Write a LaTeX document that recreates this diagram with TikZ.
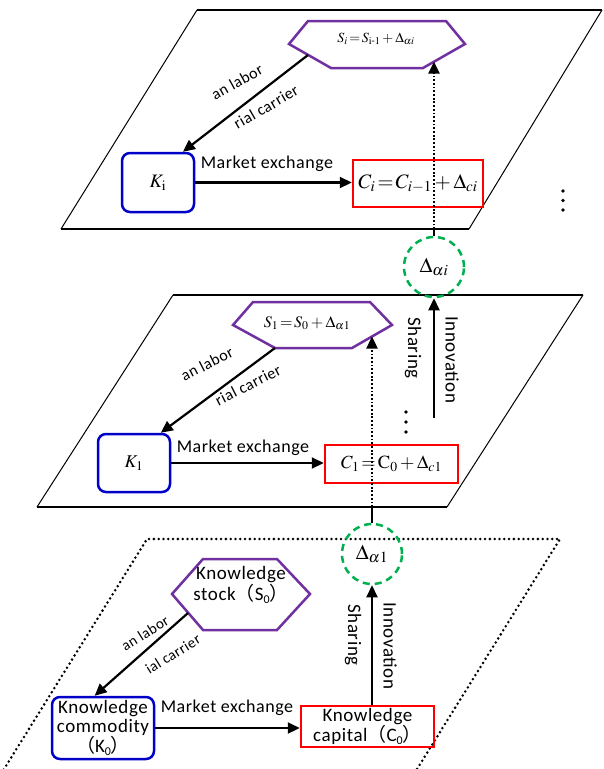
\documentclass[tikz,border=0pt]{standalone}
\usepackage{amsmath}
\usepackage{mathptmx}
\usepackage[no-math]{fontspec}
\setmainfont{Carlito}[LetterSpace=3]
\newfontfamily\cjkfont{Noto Sans CJK SC}
\usetikzlibrary{arrows.meta,calc}
\definecolor{hexpurple}{RGB}{112,48,160}
\definecolor{boxblue}{RGB}{0,0,200}
\definecolor{boxred}{RGB}{255,0,0}
\definecolor{circgreen}{RGB}{0,176,80}
\newcommand\lowsub[1]{\raisebox{-0.3ex}{\fontsize{12}{12}\selectfont #1}}
\newcommand\fpar[1]{{\cjkfont #1}}
\newcommand\fs[2]{\fontsize{#1}{#2}\selectfont}
\tikzset{
  kbox/.style={draw=boxblue, line width=2.5pt, rounded corners=8pt, align=center, inner sep=0pt},
  cbox/.style={draw=boxred, line width=2.5pt, align=center, inner sep=0pt},
  hexline/.style={draw=hexpurple, line width=2.5pt, line join=miter},
  dcirc/.style={circle, draw=circgreen, line width=2.5pt, dash pattern=on 7pt off 5pt, minimum size=60pt, inner sep=0pt, font=\fs{21}{21}},
  arr/.style={line width=2.2pt, -{Triangle[length=12pt,width=11pt]}},
  darr/.style={arr, line width=2.4pt, dash pattern=on 1.8pt off 1.9pt},
  solidlink/.style={line width=2.2pt},
  planeH/.style={line width=1.3pt},
  planeS/.style={line width=1pt},
  planeD/.style={line width=2.8pt, line cap=round, dash pattern=on 0pt off 4.8pt},
  lab/.style={font=\fs{16}{16}, inner sep=0pt},
  me/.style={font=\fs{18}{18}, inner sep=0pt},
  side/.style={font=\fs{19}{19}, rotate=-90, inner sep=0pt},
  txt/.style={inner sep=0pt, align=center}
}
\begin{document}
\begin{tikzpicture}[x=1pt,y=-1pt]
\useasboundingbox (0,0) rectangle (603,769);

% ---------- planes ----------
\draw[planeH] (197,10) -- (602,10);
\draw[planeH] (61,229) -- (469,229);
\draw[planeS] (61,229) -- (197,10);
\draw[planeS] (469,229) -- (602,10);

\draw[planeH] (173,295) -- (583,295);
\draw[planeH] (37,507) -- (447,507);
\draw[planeS] (37,507) -- (173,295);
\draw[planeS] (447,507) -- (583,295);

\begin{scope}
\clip (0,0) rectangle (603,769);
\draw[planeD] (-9,790) -- (147,539) -- (560,539) -- (404,790);
\end{scope}

% ---------- top plane ----------
\coordinate (Si-l) at (289,44);
\coordinate (Si-tl) at (308,21);
\coordinate (Si-tr) at (446,21);
\coordinate (Si-r) at (465,44);
\coordinate (Si-br) at (423,68);
\coordinate (Si-bl) at (331,68);
\draw[hexline] (Si-l) -- (Si-tl) -- (Si-tr) -- (Si-r) -- (Si-br) -- (Si-bl) -- cycle;
\node[txt, font=\fs{14}{14}] (Si) at (376,39) {$S_i\!=\!S_{\mathrm{i}\text{-}1}+\Delta_{\alpha i}$};
\coordinate (Si-s) at (308,55);
\coordinate (Si-hit) at (434,61.7);

\node[kbox, minimum width=72pt, minimum height=59pt, font=\fs{19}{19}] (Ki) at (158,182.5) {$K_{\mathrm{i}}$};
\node[cbox, minimum width=130pt, minimum height=47pt, font=\fs{20.5}{20.5}] (Ci) at (418,183.5) {$C_i\!=\!C_{i-1}+\Delta_{ci}$};

\draw[arr] (Si-s) -- ($(Ki.north)!0.67!(Ki.north east)$);
\node[lab, rotate=29] (lab1a) at (237,82) {an labor};
\node[lab, rotate=30] (lab1b) at (266,107) {rial carrier};

\draw[arr] (Ki.east) -- (Ki.east -| Ci.west);
\node[me] (me1) at (267,164) {Market exchange};

\fill (563,191) circle (1.8pt) (563,200.5) circle (1.8pt) (563,210) circle (1.8pt);

\node[dcirc] (Dai) at (434,267) {$\Delta_{\alpha i}$};
\coordinate (p1b) at (434,229);
\draw[solidlink] (Dai.north) -- (p1b);
\draw[darr] (p1b) -- (Si-hit);

% ---------- middle plane ----------
\coordinate (S1-l) at (233,325);
\coordinate (S1-tl) at (253,302);
\coordinate (S1-tr) at (370,302);
\coordinate (S1-r) at (392,325);
\coordinate (S1-br) at (352,348);
\coordinate (S1-bl) at (275,348);
\draw[hexline] (S1-l) -- (S1-tl) -- (S1-tr) -- (S1-r) -- (S1-br) -- (S1-bl) -- cycle;
\node[txt, font=\fs{16}{16}] (S1) at (307,323) {$S_1\!=\!S_0+\Delta_{\alpha 1}$};
\coordinate (S1-hit) at (372,336.5);

\node[kbox, minimum width=72pt, minimum height=58pt, font=\fs{18}{18}] (K1) at (134,463) {$K_1$};
\node[cbox, minimum width=133pt, minimum height=38pt, font=\fs{18.5}{18.5}] (C1) at (391.5,464) {$C_1\!=\!\mathrm{C}_0+\Delta_{c1}$};

\draw[arr] (S1-bl) -- ($(K1.north)!0.72!(K1.north east)$);
\node[lab, rotate=27] (lab2a) at (207,364) {an labor};
\node[lab, rotate=27] (lab2b) at (248,385) {rial carrier};

\draw[arr] (K1.east) -- (K1.east -| C1.west);
\node[me] (me2) at (243,448) {Market exchange};

\fill (406,412) circle (1.8pt) (406,422) circle (1.8pt) (406,432) circle (1.8pt);

\coordinate (Dai-in) at (434,418);
\draw[arr] (Dai-in) -- (Dai.south);
\node[side] (sh2) at (413,348) {Sharing};
\node[side] (in2) at (452,360) {Innovation};

\node[dcirc] (Da1) at (372,554) {$\Delta_{\alpha 1}$};
\coordinate (p2b) at (372,507);
\draw[solidlink] (Da1.north) -- (p2b);
\draw[darr] (p2b) -- (S1-hit);

% ---------- bottom plane ----------
\coordinate (S0-l) at (172,594);
\coordinate (S0-tl) at (203,559);
\coordinate (S0-tr) at (277,559);
\coordinate (S0-r) at (310,594);
\coordinate (S0-br) at (277,630);
\coordinate (S0-bl) at (203,630);
\draw[hexline] (S0-l) -- (S0-tl) -- (S0-tr) -- (S0-r) -- (S0-br) -- (S0-bl) -- cycle;
\node[txt, font=\fs{19}{14.5}] (S0) at (241,585) {Knowledge\\stock\fpar{（}S\lowsub{0}\fpar{）}};
\coordinate (S0-s) at (188,613);

\node[kbox, minimum width=102pt, minimum height=62pt, font=\fs{19}{18.5}] (K0) at (103,728) {Knowledge\\commodity\\\fpar{（}K\lowsub{0}\fpar{）}};
\node[cbox, minimum width=133pt, minimum height=41pt, font=\fs{19}{16}] (C0) at (367.5,726.5) {Knowledge\\capital\fpar{（}C\lowsub{0}\fpar{）}};

\draw[arr] (S0-s) -- ($(K0.north)!0.16!(K0.north west)$);
\node[lab, rotate=32, font=\fs{15}{15}] (lab3a) at (145,633) {an labor};
\node[lab, rotate=32, font=\fs{15}{15}] (lab3b) at (173,654) {ial carrier};

\draw[arr] (K0.east) -- (K0.east -| C0.west);
\node[me] (me3) at (227,708) {Market exchange};

\draw[arr] (Da1 |- C0.north) -- (Da1.south);
\node[side] (sh3) at (353,635) {Sharing};
\node[side] (in3) at (390,646) {Innovation};
\end{tikzpicture}
\end{document}
